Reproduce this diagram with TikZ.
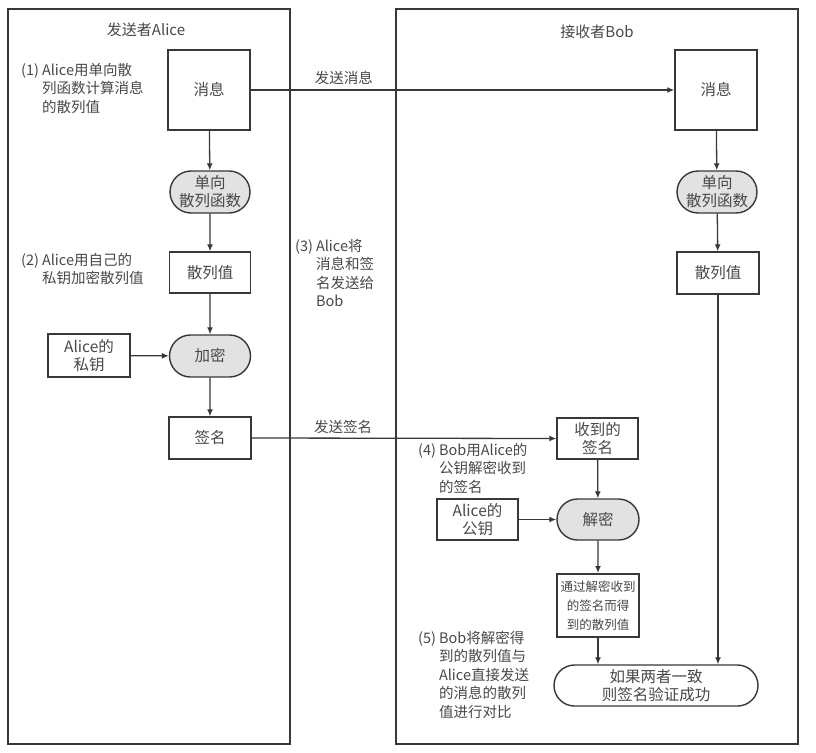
\documentclass[tikz,border=0pt]{standalone}
\usepackage{fontspec}
\setmainfont{Noto Sans CJK SC}
\usetikzlibrary{shapes.misc,arrows.meta}
\definecolor{linec}{HTML}{383838}
\definecolor{txtc}{HTML}{484848}
\definecolor{pillfill}{HTML}{E2E2E2}
\tikzset{
  panel/.style={draw=linec, line width=1.6pt},
  nodebox/.style={draw=linec, line width=1.4pt, fill=white, inner sep=0pt, align=center,
     text=txtc, font=\fontsize{15.5}{18}\selectfont},
  pill/.style={nodebox, rounded rectangle, rounded rectangle arc length=180, fill=pillfill},
  lbl/.style={text=txtc, inner sep=0pt, font=\fontsize{14.5}{18.5}\selectfont, align=left},
  flow/.style={draw=linec, line width=1.3pt, -{Latex[length=7pt,width=6pt]}},
}
\newcommand{\steptxt}[2]{\begin{tabular}{@{}l@{\hspace{3pt}}l@{}}#1\end{tabular}}
\begin{document}
\begin{tikzpicture}[x=1pt,y=-1pt]
\useasboundingbox (0,0) rectangle (816,752);
\fill[white] (0,0) rectangle (816,752);
% panels
\draw[panel] (8,9) rectangle (290,744);
\draw[panel] (396,9) rectangle (798,744);
\node[lbl, font=\fontsize{15}{18}\selectfont] (tA) at (146,30) {发送者Alice};
\node[lbl, font=\fontsize{15}{18}\selectfont] (tB) at (597,32) {接收者Bob};
% Alice side
\node[nodebox, minimum width=82pt, minimum height=80pt] (amsg) at (209,90) {消息};
\node[pill, minimum width=80pt, minimum height=42pt] (ahash) at (210,192) {单向\\散列函数};
\node[nodebox, minimum width=81pt, minimum height=41pt] (ahv) at (210,272.5) {散列值};
\node[pill, minimum width=81pt, minimum height=42pt] (enc) at (210,356) {加密};
\node[nodebox, minimum width=82pt, minimum height=43pt] (akey) at (89,355.5) {Alice的\\私钥};
\node[nodebox, minimum width=82pt, minimum height=42pt] (sig) at (210,438) {签名};
% Bob side
\node[nodebox, minimum width=82pt, minimum height=80pt] (bmsg) at (716,90) {消息};
\node[pill, minimum width=80pt, minimum height=42pt] (bhash) at (717,192) {单向\\散列函数};
\node[nodebox, minimum width=82pt, minimum height=42pt] (bhv) at (718,273) {散列值};
\node[nodebox, minimum width=81pt, minimum height=41pt] (rsig) at (597.5,438.5) {收到的\\签名};
\node[nodebox, minimum width=81pt, minimum height=41pt] (pubkey) at (477.5,519.5) {Alice的\\公钥};
\node[pill, minimum width=82pt, minimum height=41pt] (dec) at (598,519.5) {解密};
\node[nodebox, line width=2pt, minimum width=82pt, minimum height=63pt,
      font=\fontsize{12.5}{19}\selectfont] (dh) at (598,605.5) {通过解密收到\\的签名而得\\到的散列值};
\node[pill, fill=white, minimum width=204pt, minimum height=41pt] (final) at (656,685.5) {如果两者一致\\则签名验证成功};
% step labels
\node[lbl, anchor=north west] (s1) at (21,62) {\steptxt{(1)&Alice用单向散\\&列函数计算消息\\&的散列值}{}};
\node[lbl, anchor=north west] (s2) at (21,252) {\steptxt{(2)&Alice用自己的\\&私钥加密散列值}{}};
\node[lbl, anchor=north west] (s3) at (295,238) {\steptxt{(3)&Alice将\\&消息和签\\&名发送给\\&Bob}{}};
\node[lbl, anchor=north west] (s4) at (418,442) {\steptxt{(4)&Bob用Alice的\\&公钥解密收到\\&的签名}{}};
\node[lbl, anchor=north west] (s5) at (418,630) {\steptxt{(5)&Bob将解密得\\&到的散列值与\\&Alice直接发送\\&的消息的散列\\&值进行对比}{}};
% connectors
\draw[flow] (amsg.east) -- node[lbl, above=5pt, pos=0.22] (l1) {发送消息} (bmsg.west);
\draw[flow] (sig.east) -- node[lbl, above=4pt, pos=0.30] (l2) {发送签名} (rsig.west);
\draw[flow] (amsg) -- (ahash);
\draw[flow] (ahash) -- (ahv);
\draw[flow] (ahv) -- (enc);
\draw[flow] (akey) -- (enc);
\draw[flow] (enc) -- (sig);
\draw[flow] (bmsg) -- (bhash);
\draw[flow] (bhash) -- (bhv);
\draw[flow] (bhv.south) -- (bhv.south |- final.north);
\draw[flow] (rsig) -- (dec);
\draw[flow] (pubkey) -- (dec);
\draw[flow] (dec) -- (dh);
\draw[flow] (dh.south) -- (dh.south |- final.north);
\end{tikzpicture}
\end{document}
